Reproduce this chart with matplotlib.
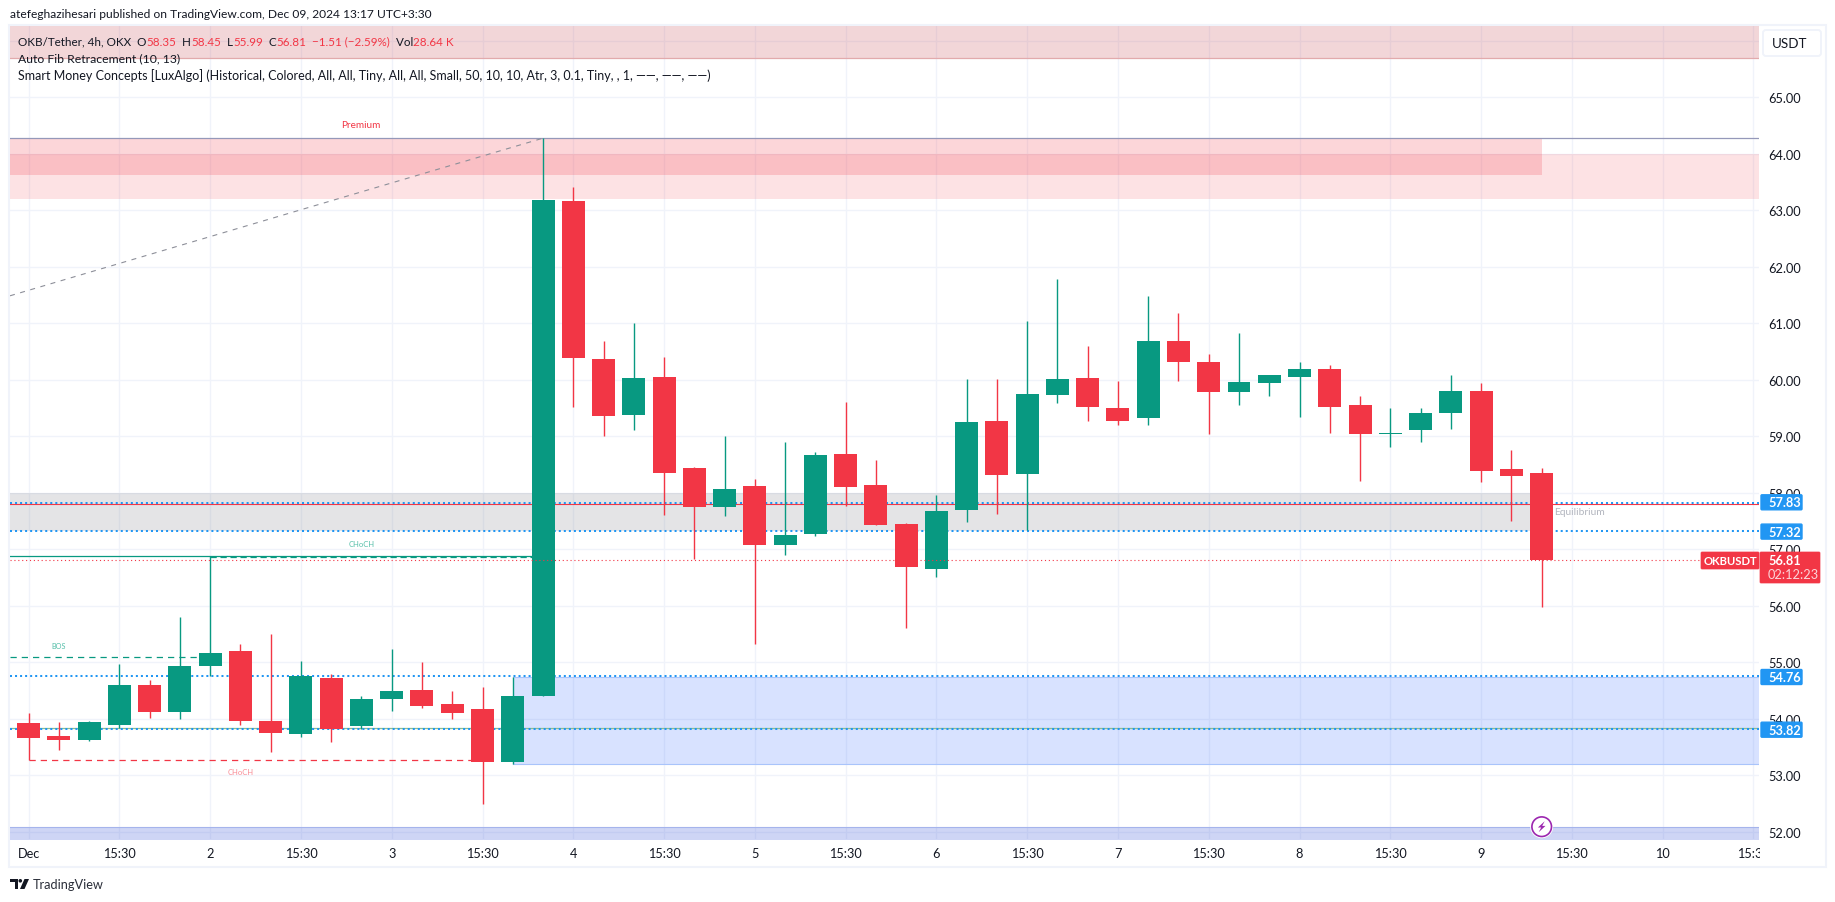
import matplotlib
matplotlib.use("Agg")
import matplotlib.pyplot as plt
from matplotlib.patches import Rectangle, FancyBboxPatch, Circle, Polygon

plt.rcParams['font.family'] = ['Lato', 'DejaVu Sans']

W, H = 1835, 903
GREEN = '#089981'
RED = '#f23645'
BLUE = '#2196f3'
INK = '#131722'
GRID = '#f0f3fa'
PURPLE = '#9c27b0'

# candles, 4h bars
opens = [53.93, 53.70, 53.63, 53.90, 54.60, 54.12, 54.94, 55.20, 53.97, 53.74,
         54.73, 53.87, 54.36, 54.52, 54.27, 54.18, 53.23, 54.41, 63.17, 60.37,
         59.38, 60.06, 58.44, 57.75, 58.12, 57.08, 57.27, 58.69, 58.14, 57.45,
         56.65, 57.70, 59.27, 58.33, 59.74, 60.04, 59.51, 59.32, 60.69, 60.31,
         59.78, 59.95, 60.06, 60.20, 59.55, 59.04, 59.11, 59.42, 59.81, 58.42, 58.35]
highs = [54.11, 53.95, 53.97, 54.97, 54.69, 55.80, 56.88, 55.32, 55.50, 55.03,
         54.80, 54.41, 55.24, 55.00, 54.50, 54.57, 54.74, 64.28, 63.41, 60.69,
         61.01, 60.41, 58.46, 59.01, 58.25, 58.91, 58.73, 59.61, 58.58, 57.47,
         57.96, 60.02, 60.02, 61.05, 61.79, 60.60, 59.99, 61.49, 61.19, 60.46,
         60.83, 60.09, 60.31, 60.27, 59.71, 59.50, 59.50, 60.08, 59.95, 58.76, 58.45]
lows = [53.27, 53.45, 53.61, 53.84, 54.02, 54.00, 54.76, 53.90, 53.42, 53.69,
        53.60, 53.83, 54.15, 54.20, 54.00, 52.50, 53.20, 54.41, 59.53, 59.01,
        59.11, 57.61, 56.83, 57.59, 55.32, 56.90, 57.23, 57.77, 57.43, 55.61,
        56.51, 57.49, 57.63, 57.35, 59.60, 59.28, 59.20, 59.20, 59.99, 59.04,
        59.55, 59.72, 59.35, 59.07, 58.21, 58.81, 58.91, 59.14, 58.19, 57.51, 55.99]
closes = [53.66, 53.63, 53.95, 54.60, 54.12, 54.94, 55.17, 53.97, 53.75, 54.76,
          53.83, 54.36, 54.50, 54.23, 54.11, 53.23, 54.41, 63.19, 60.39, 59.36,
          60.04, 58.35, 57.75, 58.07, 57.08, 57.25, 58.67, 58.11, 57.43, 56.69,
          57.68, 59.26, 58.32, 59.76, 60.02, 59.53, 59.28, 60.69, 60.31, 59.79,
          59.97, 60.08, 60.20, 59.53, 59.04, 59.07, 59.41, 59.81, 58.39, 58.30, 56.81]

time_ticks = list(range(0, 58, 3))
time_labels = ['Dec', '15:30', '2', '15:30', '3', '15:30', '4', '15:30', '5', '15:30',
               '6', '15:30', '7', '15:30', '8', '15:30', '9', '15:30', '10', '15:30']
price_ticks = list(range(52, 67))
price_labels = ['%d.00' % p if p < 66 else '' for p in price_ticks]

line_prices = [57.83, 57.32, 54.76, 53.82]
last_close = 56.81
red_line = 57.80
green_line = 53.84
fib_top = 64.28
fib_start = 61.49
bos_level = 55.09
choch_up = 56.89
choch_down = 53.27

fig = plt.figure(figsize=(W / 100, H / 100), dpi=100, facecolor='white')
L, R, T, B = 10, 1759, 27, 840
ax = fig.add_axes([L / W, 1 - B / H, (R - L) / W, (B - T) / H])
x0, x1 = (L - 28.6) / 30.26, (R - 28.6) / 30.26
ax.set_xlim(x0, x1)
ax.set_ylim(51.876, 66.265)
for s in ax.spines.values():
    s.set_visible(False)
ax.yaxis.tick_right()
ax.set_xticks(time_ticks)
ax.set_xticklabels(time_labels, color=INK)
ax.set_yticks(price_ticks)
ax.set_yticklabels(price_labels, color=INK)
ax.tick_params(axis='both', length=0, labelsize=9.2)
ax.tick_params(axis='x', pad=6)
ax.tick_params(axis='y', pad=6.5)
ax.grid(True, color=GRID, lw=1.0)
ax.set_axisbelow(True)


def band(xa, xb, lo, hi, color, alpha, edge=None):
    ax.fill_between([xa, xb], lo, hi, color=color, alpha=alpha, lw=0, zorder=1)
    if edge:
        ax.plot([xa, xb], [hi, hi], color=edge, lw=0.8, zorder=1.2)


band(x0, x1, 65.69, 67, '#c9505a', 0.23)
ax.plot([x0, x1], [65.69, 65.69], color='#e2aaac', lw=0.9, zorder=1.2)
band(x0, 50, 63.62, fib_top, RED, 0.2)
band(x0, x1, 63.2, 64.0, RED, 0.14)
band(x0, 50, 57.33, 58.0, '#787b86', 0.2)
band(16, x1, 53.2, 54.75, '#2962ff', 0.18, '#a9c4fb')
ax.plot([16, x1], [53.2, 53.2], color='#a9c4fb', lw=0.8, zorder=1.2)
band(x0, x1, 51, 52.09, '#3f5bd8', 0.25, '#a5b4ec')

ax.plot([x0, x1], [fib_top, fib_top], color='#9598b9', lw=0.9, zorder=2)
ax.plot([x0, 17], [fib_start, fib_top], color='#8d8f99', lw=0.8, ls=(0, (4.5, 5)), zorder=2)
ax.plot([x0, x1], [red_line, red_line], color=RED, lw=0.8, zorder=2)
ax.plot([x0, x1], [green_line, green_line], color='#8fbf8a', lw=0.9, zorder=2)
ax.plot([x0, 17], [choch_up, choch_up], color=GREEN, lw=0.9, zorder=2)
ax.plot([6, 17], [choch_up - 0.02, choch_up - 0.02], color=GREEN, lw=0.9, ls=(0, (5, 3)), zorder=2)
ax.plot([x0, 6], [bos_level, bos_level], color=GREEN, lw=0.9, ls=(0, (5, 4)), zorder=2)
ax.plot([0, 15], [choch_down, choch_down], color=RED, lw=0.9, ls=(0, (5, 4)), zorder=2)
for p in line_prices:
    ax.plot([x0, x1], [p, p], color=BLUE, lw=1.45, ls=(0, (1, 1.5)), zorder=2.5)

# candles
for i in range(len(opens)):
    c = GREEN if closes[i] >= opens[i] else RED
    ax.vlines(i, lows[i], highs[i], color=c, lw=1.0, zorder=3)
    ax.bar(i, abs(closes[i] - opens[i]), width=0.76, bottom=min(opens[i], closes[i]),
           color=c, lw=0, zorder=3.2)
ax.plot([x0, x1], [last_close, last_close], color=RED, lw=0.8, ls=(0, (1, 2.5)), zorder=4)

ax.text(1, 55.3, 'BOS', color='#55bfa9', fontsize=5.2, ha='center', va='center', zorder=5)
ax.text(11, 57.11, 'CHoCH', color='#55bfa9', fontsize=5.5, ha='center', va='center', zorder=5)
ax.text(7, 53.07, 'CHoCH', color='#f98b94', fontsize=5.5, ha='center', va='center', zorder=5)
ax.text(10.99, 64.53, 'Premium', color=RED, fontsize=7.2, ha='center', va='center', zorder=5)
ax.text(50.4, 57.68, 'Equilibrium', color='#b2b5be', fontsize=7.4, ha='left', va='center', zorder=5)

# overlay in picture pixels, for the frame, labels and header
ov = fig.add_axes([0, 0, 1, 1], facecolor='none')
ov.set_xlim(0, W)
ov.set_ylim(H, 0)
ov.axis('off')
ov.add_patch(Rectangle((1759.5, 845), 50, 20, fc='white', ec='none'))
ov.add_patch(Rectangle((9, 26), 1817, 842, fc='none', ec=GRID, lw=1.45))

r = fig.canvas.get_renderer()


def runs(x, y, parts, size):
    for s, c in parts:
        t = ov.text(x, y, s, color=c, fontsize=size, ha='left', va='center')
        x = t.get_window_extent(r).x1


ov.text(10, 15, 'atefeghazihesari published on TradingView.com, Dec 09, 2024 13:17 UTC+3:30',
        color=INK, fontsize=8.65, ha='left', va='center')
runs(18, 42, [('OKB/Tether, 4h, OKX  O', INK), ('58.35', RED), ('  H', INK), ('58.45', RED),
              ('  L', INK), ('55.99', RED), ('  C', INK), ('56.81', RED),
              ('  \u22121.51 (\u22122.59%)', RED), ('  Vol', INK), ('28.64 K', RED)], 8.4)
ov.text(18, 59, 'Auto Fib Retracement (10, 13)', color=INK, fontsize=8.8, ha='left', va='center')
ov.text(18, 76, 'Smart Money Concepts [LuxAlgo] (Historical, Colored, All, All, Tiny, All, All, '
        'Small, 50, 10, 10, Atr, 3, 0.1, Tiny, , 1, \u2014\u2014, \u2014\u2014, \u2014\u2014)',
        color=INK, fontsize=9.0, ha='left', va='center')

# price scale tags
for p, yc in zip(line_prices, [503.3, 532.6, 678, 730.7]):
    ov.add_patch(FancyBboxPatch((1761, yc - 7.5), 41, 15, boxstyle='round,pad=0,rounding_size=1',
                                fc=BLUE, ec=BLUE, lw=1))
    ov.text(1768, yc, '%.2f' % p, color='white', fontsize=9.2, fontweight='bold', ha='left', va='center')
ov.add_patch(FancyBboxPatch((1760, 553), 60, 31, boxstyle='round,pad=0,rounding_size=1', fc=RED, ec=RED, lw=0.5))
ov.text(1768, 561.5, '%.2f' % last_close, color='white', fontsize=9.2, fontweight='bold', ha='left', va='center')
ov.text(1768, 575.5, '02:12:23', color='#fcd5d8', fontsize=9.2, ha='left', va='center')
ov.add_patch(FancyBboxPatch((1701, 553), 58, 17, boxstyle='round,pad=0,rounding_size=1', fc=RED, ec=RED, lw=0.5))
ov.text(1730, 561.5, 'OKBUSDT', color='white', fontsize=8.1, fontweight='bold', ha='center', va='center')

ov.add_patch(FancyBboxPatch((1763, 31), 58, 26, boxstyle='round,pad=0,rounding_size=3', fc='white', ec=GRID, lw=1.4))
ov.text(1772, 44, 'USDT', color=INK, fontsize=9.6, ha='left', va='center')

# flash marker
fx, fy = 1541.7, 827.7
ov.add_patch(Circle((fx, fy), 11.5, fc='white', ec='none'))
ov.add_patch(Circle((fx, fy), 9.8, fc='white', ec=PURPLE, lw=1.2))
ov.add_patch(Polygon([(fx + 3, fy - 5.5), (fx - 3.8, fy + 0.8), (fx - 0.5, fy + 0.8), (fx - 3, fy + 5.5),
                      (fx + 3.8, fy - 0.8), (fx + 0.5, fy - 0.8)], fc=PURPLE, ec='none'))

# TradingView logo
ov.add_patch(Polygon([(10, 880), (18, 880), (18, 890), (14.5, 890), (14.5, 883.5), (10, 883.5)], fc=INK))
ov.add_patch(Circle((20.3, 881.8), 1.8, fc=INK))
ov.add_patch(Polygon([(24.5, 880), (29, 880), (24.5, 890), (20, 890)], fc=INK))
ov.text(33, 885.5, 'TradingView', color='#2a2e39', fontsize=9.2, ha='left', va='center')

fig.savefig('out.png', dpi=100, facecolor='white')
